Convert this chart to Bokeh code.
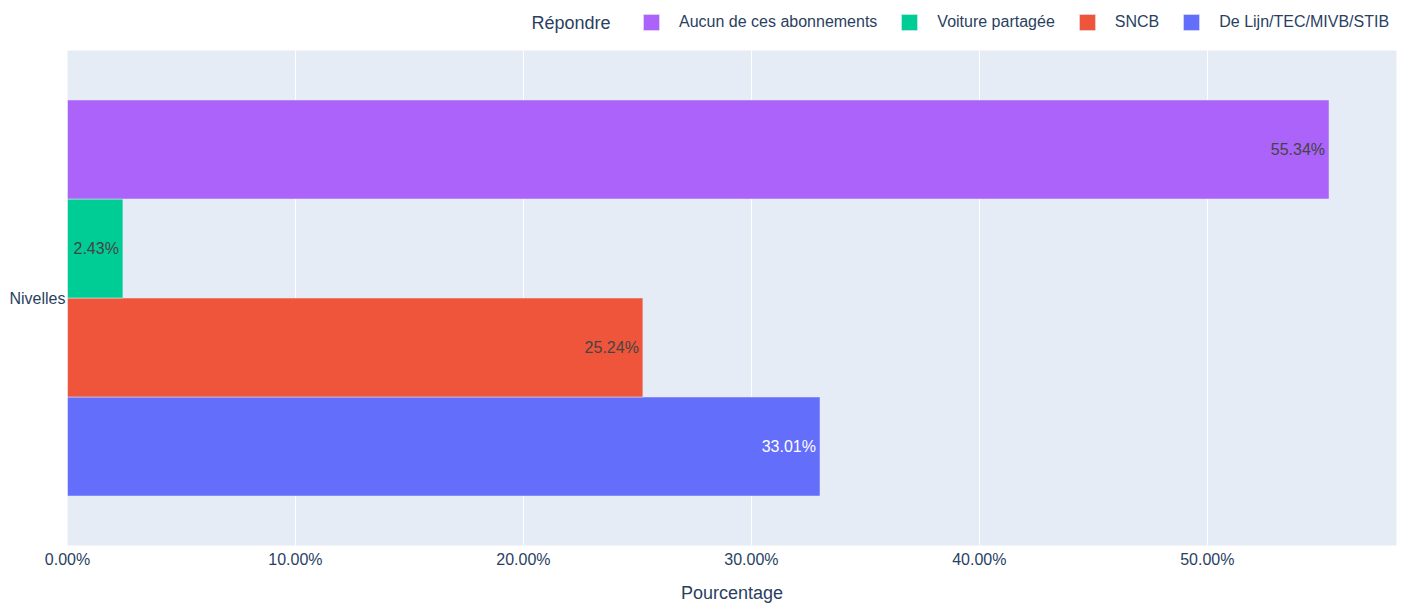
from bokeh.plotting import figure
from bokeh.models import (FactorRange, Range1d, ColumnDataSource, Legend, LegendItem,
                          PrintfTickFormatter, FixedTicker, Label)
from bokeh.layouts import column
from bokeh.transform import dodge
from bokeh.core.properties import value
from bokeh.embed import file_html
from bokeh.resources import INLINE

# ---- data ----
categories = ["Nivelles"]
series = ["De Lijn/TEC/MIVB/STIB", "SNCB", "Voiture partagée", "Aucun de ces abonnements"]
values = [33.01, 25.24, 2.43, 55.34]
x_ticks = [0, 10, 20, 30, 40, 50]
legend_title = "Répondre"
x_title = "Pourcentage"

# ---- styles ----
colors = ["#636EFA", "#EF553B", "#00CC96", "#AB63FA"]
label_colors = ["#ffffff", "#444444", "#444444", "#444444"]
offsets = [-0.3, -0.1, 0.1, 0.3]
FONT = "Liberation Sans"
TXT = "#2a3f5f"

# ---------------- main chart ----------------
p = figure(width=1406, height=555,
           y_range=FactorRange(*categories),
           x_range=Range1d(0, 58.3),
           output_backend="svg", toolbar_location=None,
           min_border_left=67, min_border_right=10,
           min_border_top=0, min_border_bottom=57)
p.background_fill_color = "#E5ECF6"
p.border_fill_color = "white"
p.outline_line_color = None

for i, name in enumerate(series):
    src = ColumnDataSource(dict(cat=categories, val=[values[i]],
                                lab=[f"{values[i]:.2f}%"]))
    p.hbar(y=dodge("cat", offsets[i], range=p.y_range), left=0, right="val",
           height=0.2, source=src, fill_color=colors[i],
           line_color="#E5ECF6", line_width=0.5)
    p.text(x="val", y=dodge("cat", offsets[i], range=p.y_range), text="lab",
           source=src, text_align="right", text_baseline="middle", x_offset=-4,
           text_color=label_colors[i], text_font=value(FONT), text_font_size="16px")

p.xaxis.ticker = FixedTicker(ticks=x_ticks)
p.xaxis.formatter = PrintfTickFormatter(format="%.2f%%")
for ax in (p.xaxis, p.yaxis):
    ax.axis_line_color = None
    ax.major_tick_line_color = None
    ax.minor_tick_line_color = None
    ax.major_tick_out = 0
    ax.major_tick_in = 0
    ax.major_label_text_font = FONT
    ax.major_label_text_font_size = "16px"
    ax.major_label_text_color = TXT
p.xaxis.major_label_standoff = 5
p.yaxis.major_label_standoff = 2
p.xaxis.axis_label = x_title
p.xaxis.axis_label_text_font = FONT
p.xaxis.axis_label_text_font_size = "18px"
p.xaxis.axis_label_text_font_style = "normal"
p.xaxis.axis_label_text_color = TXT
p.xaxis.axis_label_standoff = 12

p.xgrid.grid_line_color = "white"
p.xgrid.grid_line_width = 1
p.ygrid.grid_line_color = None

# ---------------- legend strip ----------------
lg = figure(width=1406, height=50, x_range=Range1d(0, 1), y_range=Range1d(0, 1),
            output_backend="svg", toolbar_location=None,
            x_axis_location=None, y_axis_location=None, min_border=0)
lg.outline_line_color = None
lg.background_fill_color = "white"
lg.border_fill_color = "white"
lg.xgrid.grid_line_color = None
lg.ygrid.grid_line_color = None

# invisible proxy glyphs (kept outside the visible range) used only for legend swatches
proxies = []
for i, name in enumerate(series):
    proxies.append(lg.hbar(y=[-5], left=[0], right=[0], height=0,
                           fill_color=colors[i], line_color="#E5ECF6", line_width=0.5))

legend = Legend(items=[LegendItem(label=series[i], renderers=[proxies[i]])
                       for i in reversed(range(len(series)))],
                orientation="horizontal", location=(574, 18))
legend.label_text_font = FONT
legend.label_text_font_size = "16px"
legend.label_text_color = TXT
legend.glyph_width = 20
legend.glyph_height = 20
legend.label_height = 20
legend.label_standoff = 18
legend.spacing = 22
legend.padding = 0
legend.margin = 0
legend.border_line_color = None
legend.background_fill_alpha = 0
lg.add_layout(legend, "center")

lg.add_layout(Label(x=464, y=28, x_units="screen", y_units="screen",
                    text=legend_title, text_align="left", text_baseline="middle",
                    text_font=FONT, text_font_size="18px", text_color=TXT))

layout = column(lg, p, spacing=0)
open("out.html", "w").write(file_html(layout, INLINE))
